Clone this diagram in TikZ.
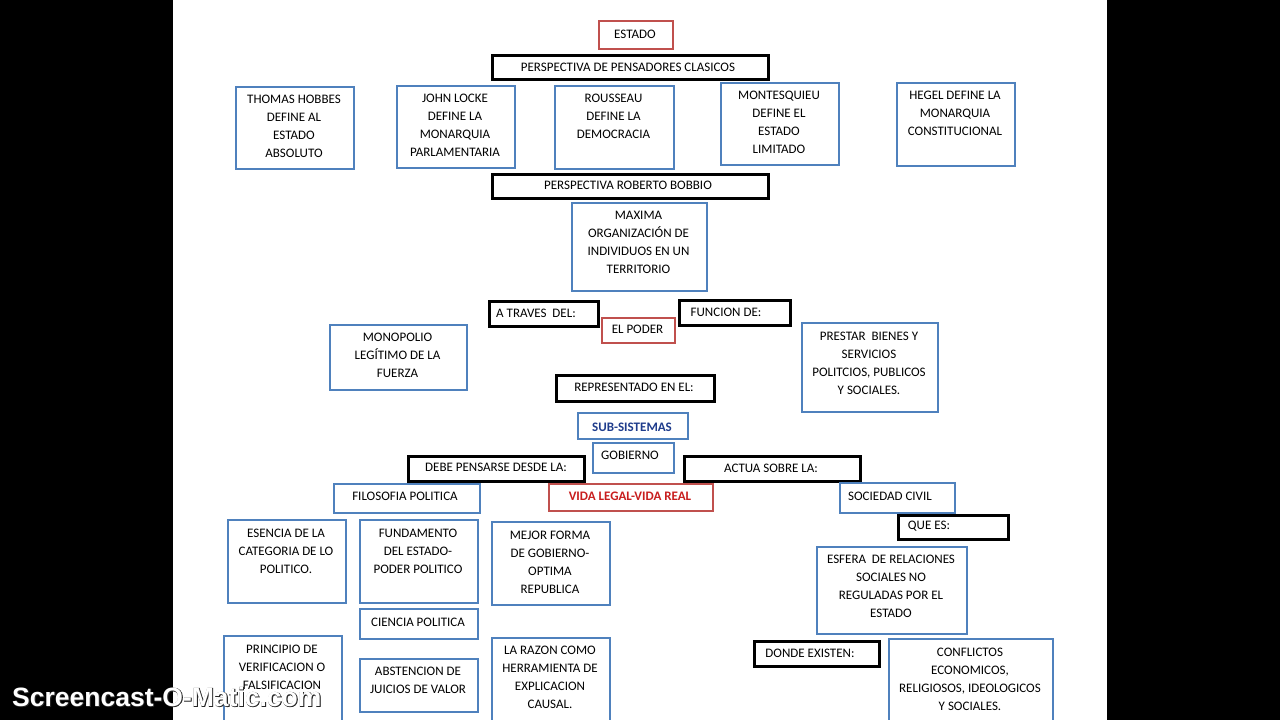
\documentclass[tikz,border=0pt]{standalone}
\usepackage{fontspec}
\setmainfont{Carlito}
\newfontfamily\wmfont{Liberation Sans}
\newfontfamily\wmoutline[FakeBold=3]{Liberation Sans}
\definecolor{bbl}{RGB}{79,129,189}
\definecolor{rred}{RGB}{192,80,77}
\definecolor{navyt}{RGB}{31,60,140}
\definecolor{redt}{RGB}{200,30,30}
\tikzset{
  bluebox/.style={draw=bbl, line width=2pt, fill=white, inner sep=0pt},
  blackbox/.style={draw=black, line width=2.6pt, fill=white, inner sep=0pt},
  redbox/.style={draw=rred, line width=2pt, fill=white, inner sep=0pt},
  txt/.style={font=\fontsize{13}{18}\selectfont, align=center, inner sep=0pt, text=black},
  wmtxt/.style={font=\fontsize{26.5}{30}\selectfont, inner sep=0pt, anchor=base west},
}
% name, style, x1, y1, x2, y2, text x, text y, text
\newcommand\bx[9]{%
  \node[#2, minimum width={(#5-#3)*1pt}, minimum height={(#6-#4)*1pt}, anchor=north west] (#1) at (#3,#4) {};
  \node[txt] (#1t) at (#7,#8) {#9};
}
\begin{document}
\begin{tikzpicture}[x=1pt,y=-1pt]
\useasboundingbox (0,0) rectangle (1280,720);
\clip (0,0) rectangle (1280,720);
\fill[black] (0,0) rectangle (1280,720);
\fill[white] (173,0) rectangle (1107,720);

\bx{estado}{redbox}{598}{20}{672}{48}{635}{34}{ESTADO}
\bx{pclas}{blackbox}{491}{54}{767}{78}{628}{67}{PERSPECTIVA DE PENSADORES CLASICOS}
\bx{hobbes}{bluebox}{235}{86}{353}{168}{294}{126}{THOMAS HOBBES\\DEFINE AL\\ESTADO\\ABSOLUTO}
\bx{locke}{bluebox}{396}{85}{514}{167}{455}{125}{JOHN LOCKE\\DEFINE LA\\MONARQUIA\\PARLAMENTARIA}
\bx{rousseau}{bluebox}{554}{85}{673}{168}{613.5}{116}{ROUSSEAU\\DEFINE LA\\DEMOCRACIA}
\bx{montesq}{bluebox}{720}{82}{838}{164}{779}{122}{MONTESQUIEU\\DEFINE EL\\ESTADO\\LIMITADO}
\bx{hegel}{bluebox}{896}{82}{1014}{165}{955}{113}{HEGEL DEFINE LA\\MONARQUIA\\CONSTITUCIONAL}
\bx{pbobbio}{blackbox}{491}{173}{767}{197}{628}{185}{PERSPECTIVA ROBERTO BOBBIO}
\bx{maxima}{bluebox}{571}{202}{706}{290}{638.5}{242}{MAXIMA\\ORGANIZACIÓN DE\\INDIVIDUOS EN UN\\TERRITORIO}
\bx{atraves}{blackbox}{488}{300}{597}{325}{536}{313}{A TRAVES~ DEL:}
\bx{poder}{redbox}{601}{317}{674}{342}{637.5}{329}{EL PODER}
\bx{funcion}{blackbox}{678}{299}{789}{324}{726}{312}{FUNCION DE:}
\bx{monopolio}{bluebox}{329}{324}{466}{389}{397.5}{355}{MONOPOLIO\\LEGÍTIMO DE LA\\FUERZA}
\bx{represent}{blackbox}{555}{374}{713}{400}{634}{387}{REPRESENTADO EN EL:}
\bx{prestar}{bluebox}{801}{322}{937}{411}{869}{363}{PRESTAR~ BIENES Y\\SERVICIOS\\POLITCIOS, PUBLICOS\\Y SOCIALES.}
\bx{subsis}{bluebox}{577}{412}{687}{438}{632}{427}{\textcolor{navyt}{\bfseries SUB-SISTEMAS}}
\bx{gobierno}{bluebox}{592}{442}{673}{472}{630}{455}{GOBIERNO}
\bx{debe}{blackbox}{407}{455}{583}{480}{496}{467}{DEBE PENSARSE DESDE LA:}
\bx{actua}{blackbox}{683}{455}{859}{480}{771}{468}{ACTUA SOBRE LA:}
\bx{filosofia}{bluebox}{333}{483}{479}{512}{405}{496}{FILOSOFIA POLITICA}
\bx{vida}{redbox}{548}{483}{712}{510}{630}{496}{\textcolor{redt}{\bfseries VIDA LEGAL-VIDA REAL}}
\bx{sociedad}{bluebox}{839}{482}{954}{512}{890}{496}{SOCIEDAD CIVIL}
\bx{quees}{blackbox}{897}{514}{1007}{538}{929}{526}{QUE ES:}
\bx{esfera}{bluebox}{816}{546}{966}{633}{891}{586}{ESFERA~ DE RELACIONES\\SOCIALES NO\\REGULADAS POR EL\\ESTADO}
\bx{esencia}{bluebox}{227}{519}{345}{602}{286}{551}{ESENCIA DE LA\\CATEGORIA DE LO\\POLITICO.}
\bx{fundamento}{bluebox}{359}{519}{477}{602}{418}{551}{FUNDAMENTO\\DEL ESTADO-\\PODER POLITICO}
\bx{mejor}{bluebox}{491}{521}{609}{604}{550}{562}{MEJOR FORMA\\DE GOBIERNO-\\OPTIMA\\REPUBLICA}
\bx{ciencia}{bluebox}{359}{608}{477}{638}{418}{622}{CIENCIA POLITICA}
\bx{principio}{bluebox}{223}{635}{341}{735}{282}{667}{PRINCIPIO DE\\VERIFICACION O\\FALSIFICACION}
\bx{abstencion}{bluebox}{359}{658}{477}{711}{418}{680}{ABSTENCION DE\\JUICIOS DE VALOR}
\bx{razon}{bluebox}{491}{637}{609}{735}{550}{677}{LA RAZON COMO\\HERRAMIENTA DE\\EXPLICACION\\CAUSAL.}
\bx{donde}{blackbox}{753}{640}{878}{665}{810}{653}{DONDE EXISTEN:}
\bx{conflictos}{bluebox}{888}{638}{1052}{735}{970}{679}{CONFLICTOS\\ECONOMICOS,\\RELIGIOSOS, IDEOLOGICOS\\Y SOCIALES.}

\node[wmtxt, text=black!85] (wmshadow) at (12.5,706.5) {\wmoutline\bfseries Screencast-O-Matic.com};
\node[wmtxt, text=white] (wm) at (12,706) {\wmfont\bfseries Screencast-O-Matic.com};
\end{tikzpicture}
\end{document}
